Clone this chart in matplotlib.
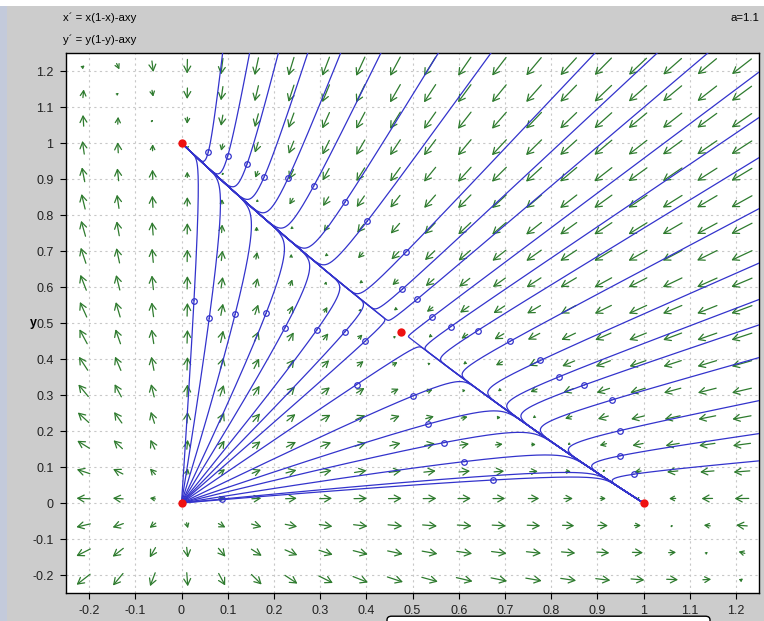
import numpy as np
import matplotlib.pyplot as plt
from matplotlib.patches import FancyArrowPatch, Rectangle, FancyBboxPatch

plt.rcParams['font.family'] = ['Liberation Sans', 'DejaVu Sans']

# model parameter shown in the chart
a = 1.1

# equilibrium points (red dots)
eq_x = [0.0, 1.0, 0.0, 0.476]
eq_y = [0.0, 0.0, 1.0, 0.476]

# initial points of the trajectories (small blue circles)
seed_x = [0.058, 0.100, 0.142, 0.179, 0.231, 0.286, 0.354, 0.402, 0.485,
          0.478, 0.510, 0.542, 0.583, 0.641, 0.711, 0.777, 0.818, 0.872,
          0.931, 0.949, 0.949, 0.979,
          0.027, 0.060, 0.116, 0.183, 0.224, 0.293, 0.354, 0.397, 0.379,
          0.502, 0.533, 0.569, 0.612, 0.675, 0.088]
seed_y = [0.975, 0.964, 0.942, 0.906, 0.903, 0.880, 0.836, 0.783, 0.696,
          0.594, 0.566, 0.516, 0.490, 0.479, 0.449, 0.396, 0.351, 0.328,
          0.286, 0.201, 0.131, 0.080,
          0.562, 0.513, 0.524, 0.527, 0.487, 0.481, 0.476, 0.449, 0.329,
          0.298, 0.219, 0.168, 0.115, 0.064, 0.011]

xmin, xmax, ymin, ymax = -0.25, 1.25, -0.25, 1.25
ticks = [-0.2, -0.1, 0, 0.1, 0.2, 0.3, 0.4, 0.5, 0.6, 0.7, 0.8, 0.9, 1, 1.1, 1.2]
tick_labels = ['-0.2', '-0.1', '0', '0.1', '0.2', '0.3', '0.4', '0.5', '0.6',
               '0.7', '0.8', '0.9', '1', '1.1', '1.2']


def field(x, y):
    return x * (1 - x) - a * x * y, y * (1 - y) - a * x * y


def trace(x0, y0, sign):
    # RK4 with a step that keeps the arc length per step roughly constant
    xs, ys = [x0], [y0]
    x, y = x0, y0
    ds = 0.003
    for i in range(6000):
        u, v = field(x, y)
        sp = np.hypot(u, v)
        if sp < 2e-4:
            break
        h = sign * min(ds / sp, 0.2)
        k1 = field(x, y)
        k2 = field(x + h / 2 * k1[0], y + h / 2 * k1[1])
        k3 = field(x + h / 2 * k2[0], y + h / 2 * k2[1])
        k4 = field(x + h * k3[0], y + h * k3[1])
        x = x + h / 6 * (k1[0] + 2 * k2[0] + 2 * k3[0] + k4[0])
        y = y + h / 6 * (k1[1] + 2 * k2[1] + 2 * k3[1] + k4[1])
        xs.append(x)
        ys.append(y)
        if x < xmin - 0.02 or x > xmax + 0.02 or y < ymin - 0.02 or y > ymax + 0.02:
            break
    return np.array(xs), np.array(ys)


fig = plt.figure(figsize=(7.64, 6.21), dpi=100, facecolor='#cccccc')
W, H = 764, 621
# white top band and bluish left strip of the window
fig.patches.append(Rectangle((0, 1 - 6 / H), 1, 6 / H, transform=fig.transFigure,
                             facecolor='white', edgecolor='none', zorder=0))
fig.patches.append(Rectangle((0, 0), 7 / W, 1 - 6 / H, transform=fig.transFigure,
                             facecolor='#c3cadb', edgecolor='none', zorder=0))
# input box at the bottom
fig.patches.append(FancyBboxPatch((387 / W, -0.01), 323 / W, 11 / H,
                                  boxstyle='round,pad=0,rounding_size=0.006',
                                  transform=fig.transFigure, facecolor='white',
                                  edgecolor='black', linewidth=1.0, zorder=1))

ax = fig.add_axes([66 / W, 1 - 593 / H, 693 / W, 540 / H])
ax.set_xlim(xmin, xmax)
ax.set_ylim(ymin, ymax)
ax.set_facecolor('white')
ax.set_xticks(ticks)
ax.set_xticklabels(tick_labels)
ax.set_yticks(ticks)
ax.set_yticklabels(tick_labels)
ax.tick_params(direction='out', length=4, width=0.8, labelsize=9, pad=5,
               labelcolor='#222222')
ax.grid(True, color='#c8c8c8', linestyle=(0, (2, 3)), linewidth=0.8)
ax.set_axisbelow(True)
for s in ax.spines.values():
    s.set_linewidth(1.0)

# direction field
px_x = 693 / (xmax - xmin)
px_y = 540 / (ymax - ymin)
step = 0.075
grid = np.arange(20) * step + xmin + step / 2
for gx in grid:
    for gy in grid:
        u, v = field(gx, gy)
        m = np.hypot(u, v)
        if m < 1e-9:
            continue
        sx, sy = u * px_x, v * px_y
        n = np.hypot(sx, sy)
        L = 27 * m / (m + 0.25)
        dx = sx / n * L / 2 / px_x
        dy = sy / n * L / 2 / px_y
        hl = min(4.5, 0.45 * L)
        arr = FancyArrowPatch((gx - dx, gy - dy), (gx + dx, gy + dy),
                              arrowstyle=f'->,head_length={hl:.2f},head_width={hl * 0.55:.2f}',
                              mutation_scale=1, color='#2e7b2e', lw=0.9,
                              shrinkA=0, shrinkB=0, zorder=2)
        ax.add_patch(arr)

# trajectories, run forward and backward from each marked point
blue = '#3333cc'
for sx0, sy0 in zip(seed_x, seed_y):
    for sgn in (1, -1):
        tx, ty = trace(sx0, sy0, sgn)
        ax.plot(tx, ty, color=blue, lw=0.9, zorder=3)
ax.plot(seed_x, seed_y, 'o', ms=4, mfc='none', mec=blue, mew=0.9, zorder=4)

ax.plot(eq_x, eq_y, 'o', ms=6, color='#ee1111', mec='none', zorder=5, clip_on=False)

fig.text(63 / W, 1 - 18 / H, 'x\u00b4 = x(1-x)-axy', fontsize=8.2, va='center', ha='left')
fig.text(63 / W, 1 - 40 / H, 'y\u00b4 = y(1-y)-axy', fontsize=8.2, va='center', ha='left')
fig.text(759 / W, 1 - 18 / H, 'a=1.1', fontsize=8.2, va='center', ha='right')
fig.text(33 / W, 1 - 323 / H, 'y', fontsize=9, fontweight='bold', va='center', ha='center')

plt.savefig('out.png', dpi=100, facecolor=fig.get_facecolor())
